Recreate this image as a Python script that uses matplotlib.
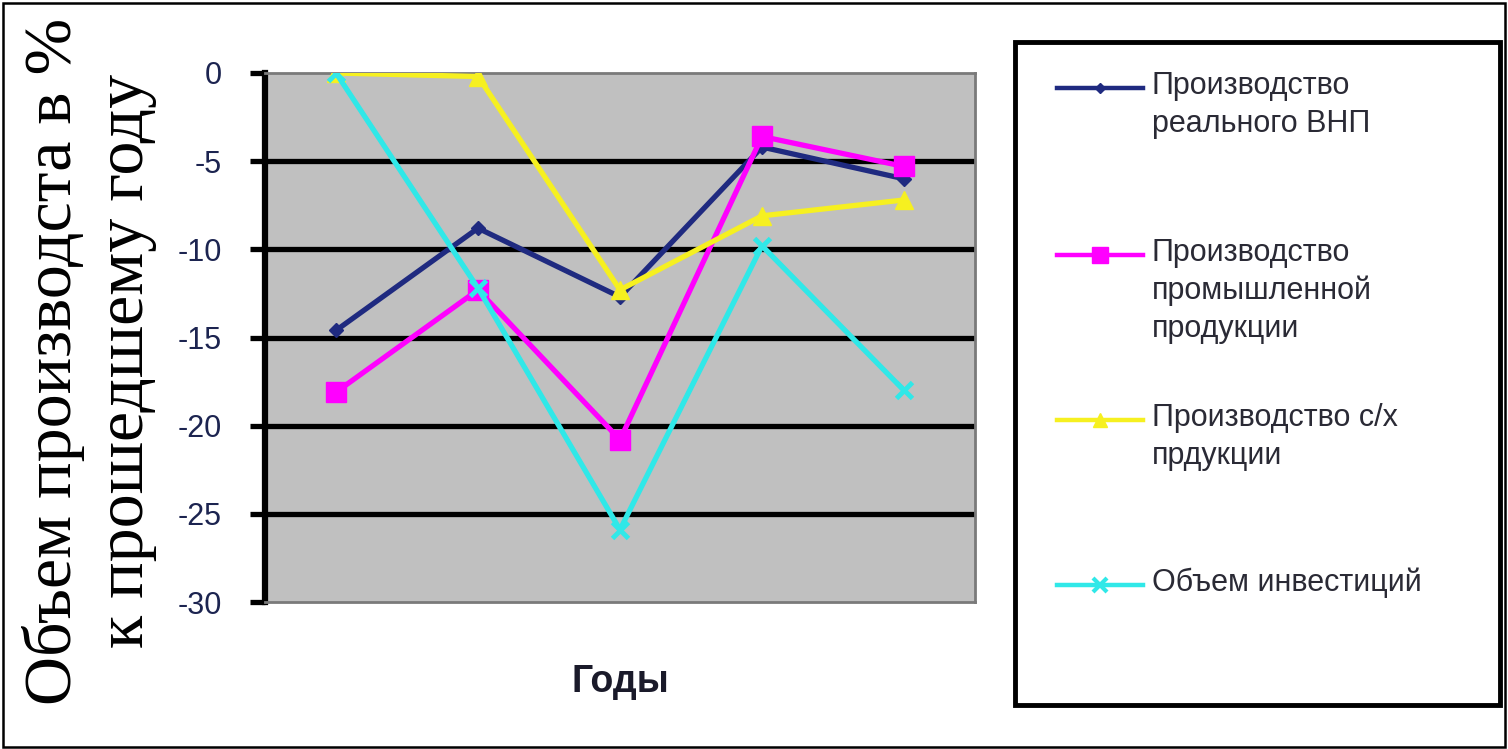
import numpy as np
import matplotlib.pyplot as plt
from matplotlib.lines import Line2D
from matplotlib.patches import Rectangle

# data
years = [1, 2, 3, 4, 5]
vnp = [-14.6, -8.8, -12.7, -4.2, -6.0]
prom = [-18.1, -12.3, -20.8, -3.6, -5.3]
selhoz = [0.0, -0.2, -12.3, -8.1, -7.2]
invest = [0.0, -12.2, -25.9, -9.8, -18.0]

names = ['Производство\nреального ВНП',
         'Производство\nпромышленной\nпродукции',
         'Производство с/х\nпрдукции',
         'Объем инвестиций']
colors = ['#1f2a80', '#ff00ff', '#f6f020', '#30e8e8']
markers = ['D', 's', '^', 'x']
msizes = [7, 15, 13, 12]
series = [vnp, prom, selhoz, invest]

yticks = [0, -5, -10, -15, -20, -25, -30]

W, H = 1508, 749
fig = plt.figure(figsize=(W / 100, H / 100), dpi=100)

# outer frame of the whole chart
fig.patches.append(Rectangle((3 / W, 2 / H), 1 - 6 / W, 1 - 5 / H, transform=fig.transFigure,
                             fill=False, edgecolor='black', linewidth=1.8))

ax = fig.add_axes([265 / W, 1 - 602 / H, 710 / W, 529 / H])
ax.set_facecolor('#c0c0c0')

for vals, c, m, ms in zip(series, colors, markers, msizes):
    ax.plot(years, vals, color=c, marker=m, markersize=ms, linewidth=3.8,
            markeredgewidth=3.5 if m == 'x' else 1, markeredgecolor=c, zorder=3)

ax.set_xlim(0.5, 5.5)
ax.set_ylim(-30, 0)
ax.set_yticks(yticks)
ax.set_yticklabels([str(v) for v in yticks], fontsize=22, color='#1c2450',
                   family='Liberation Sans')
ax.set_xticks([])
for y in yticks[1:-1]:
    ax.axhline(y, color='black', linewidth=3.8, zorder=1)

for s in ['top', 'right', 'bottom']:
    ax.spines[s].set_color('#7a7a7a')
    ax.spines[s].set_linewidth(2)
ax.spines['left'].set_linewidth(4.5)
ax.tick_params(axis='y', length=11, width=3.8, pad=20)

ax.set_xlabel('Годы', fontsize=27, fontweight='bold', family='Liberation Sans',
              color='#1a1a2a', labelpad=45)
ax.set_ylabel('Объем производста в %\nк прошедшему году', fontsize=49,
              family='Liberation Serif', linespacing=1.22)
ax.yaxis.label.set_va('center')
ax.yaxis.set_label_coords(-0.247, 0.455)

# legend box, drawn by hand so the markers sit at the first text line
fig.patches.append(Rectangle((1015 / W, 1 - 705 / H), 485 / W, 663 / H, transform=fig.transFigure,
                             fill=False, edgecolor='black', linewidth=3.5))
leg_y = [88, 255, 420, 585]
for name, c, m, ms, ly in zip(names, colors, markers, msizes, leg_y):
    fig.lines.append(Line2D([1057 / W, 1143 / W], [1 - ly / H, 1 - ly / H], transform=fig.transFigure,
                            color=c, linewidth=3.2))
    fig.lines.append(Line2D([1100 / W], [1 - ly / H], transform=fig.transFigure, color=c,
                            marker=m, markersize=ms * 0.8, markeredgecolor=c,
                            markeredgewidth=3 if m == 'x' else 1, linestyle='none'))
    fig.text(1152 / W, 1 - (ly - 17) / H, name, fontsize=22, family='Liberation Sans',
             color='#2a2a35', va='top', ha='left', linespacing=1.33)

fig.savefig('out.png', dpi=100)
